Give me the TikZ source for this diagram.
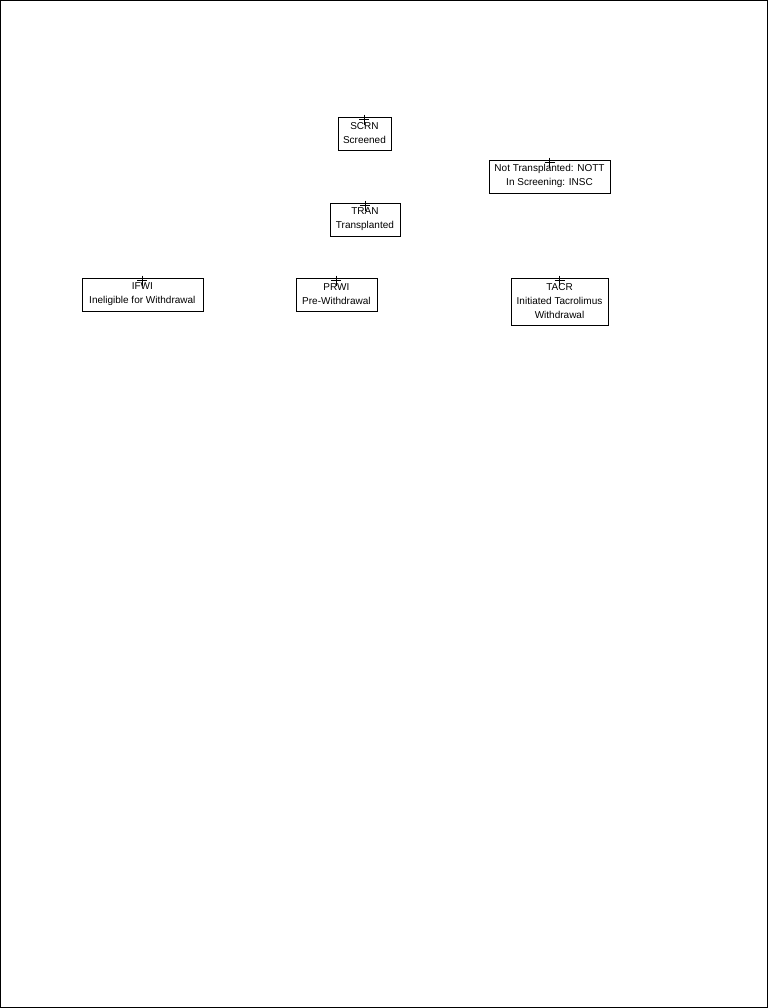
\documentclass[tikz,border=0pt]{standalone}
\usepackage{fontspec}
\setmainfont{Liberation Sans}
\begin{document}
\begin{tikzpicture}[x=0.75pt,y=-0.75pt,
                    state box/.style={
                        draw=black,
                        thin,
                        fill=white,
                        align=center,
                        font=\fontsize{7.5}{10.5}\selectfont,
                        inner sep=0pt
                    },
                    plus mark/.style={draw, thin, black}
                ]
                    \draw[thin] (0.5,0.5) rectangle (767.5,1007.5);
                    \node[state box, minimum width=39.75pt, minimum height=24.75pt] (scrn) at (364.5,133.5) {SCRN\\Screened};
                    \node[state box, minimum width=90.75pt, minimum height=24.75pt] (nott) at (549.5,176.5) {Not Transplanted: NOTT\\In Screening: INSC};
                    \node[state box, minimum width=52.5pt, minimum height=24.75pt] (tran) at (365,219.5) {TRAN\\Transplanted};
                    \node[state box, minimum width=90.75pt, minimum height=24.75pt] (ifwi) at (142.5,294.5) {IFWI\\Ineligible for Withdrawal};
                    \node[state box, minimum width=60.75pt, minimum height=24.75pt] (prwi) at (336.5,294.5) {PRWI\\Pre-Withdrawal};
                    \node[state box, minimum width=72.75pt, minimum height=35.25pt] (tacr) at (559.5,301.5) {TACR\\Initiated Tacrolimus\\Withdrawal};
                    % plus marks on top of each box
                    \foreach \n in {scrn,nott,tran,ifwi,prwi,tacr}
                        \draw[plus mark] ([yshift=-2.25pt]\n.north) +(-3.75pt,0) -- +(3.75pt,0)
                                         ([yshift=-2.25pt]\n.north) +(0,3.75pt) -- +(0,-3.75pt);
                \end{tikzpicture}
\end{document}
